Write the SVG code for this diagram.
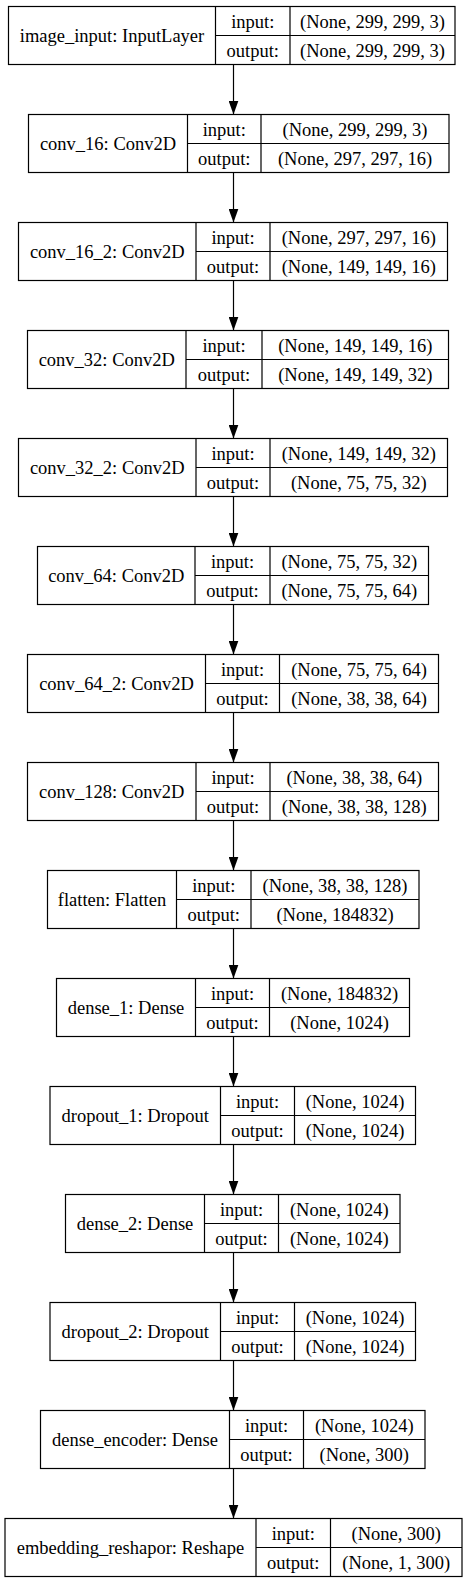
<svg xmlns="http://www.w3.org/2000/svg" width="466" height="1583" viewBox="0 0 466 1583">
<style>
.b{fill:#fff;stroke:#000;stroke-width:1.2}
.d{stroke:#000;stroke-width:1.2;fill:none}
text{font-family:"Liberation Serif","Times New Roman",serif;font-size:18.5px;fill:#000;text-anchor:middle}
.e{stroke:#000;stroke-width:1.2;fill:none;marker-end:url(#ah)}
</style>
<defs>
<marker id="ah" markerUnits="userSpaceOnUse" markerWidth="14" markerHeight="10" refX="14" refY="5" orient="auto" viewBox="0 0 14 10">
<path d="M0,0 L14,5 L0,10 z" fill="#000"/>
</marker>
</defs>
<rect width="466" height="1583" fill="#fff"/>
<g id="connectors">
<line class="e" x1="233.5" y1="64.5" x2="233.5" y2="114.5"/>
<line class="e" x1="233.5" y1="172.5" x2="233.5" y2="222.5"/>
<line class="e" x1="233.5" y1="280.5" x2="233.5" y2="330.5"/>
<line class="e" x1="233.5" y1="388.5" x2="233.5" y2="438.5"/>
<line class="e" x1="233.5" y1="496.5" x2="233.5" y2="546.5"/>
<line class="e" x1="233.5" y1="604.5" x2="233.5" y2="654.5"/>
<line class="e" x1="233.5" y1="712.5" x2="233.5" y2="762.5"/>
<line class="e" x1="233.5" y1="820.5" x2="233.5" y2="870.5"/>
<line class="e" x1="233.5" y1="928.5" x2="233.5" y2="978.5"/>
<line class="e" x1="233.5" y1="1036.5" x2="233.5" y2="1086.5"/>
<line class="e" x1="233.5" y1="1144.5" x2="233.5" y2="1194.5"/>
<line class="e" x1="233.5" y1="1252.5" x2="233.5" y2="1302.5"/>
<line class="e" x1="233.5" y1="1360.5" x2="233.5" y2="1410.5"/>
<line class="e" x1="233.5" y1="1468.5" x2="233.5" y2="1518.5"/>
</g>
<g id="image_input">
<rect class="b" x="8.5" y="6.5" width="446.5" height="58"/>
<path class="d" d="M215.5,6.5V64.5M290,6.5V64.5M215.5,35.5H455"/>
<text x="112" y="42">image_input: InputLayer</text>
<text x="252.75" y="27.5">input:</text>
<text x="252.75" y="56.5">output:</text>
<text x="372.5" y="27.5">(None, 299, 299, 3)</text>
<text x="372.5" y="56.5">(None, 299, 299, 3)</text>
</g>
<g id="conv_16">
<rect class="b" x="28.5" y="114.5" width="420.5" height="58"/>
<path class="d" d="M187.5,114.5V172.5M261,114.5V172.5M187.5,143.5H449"/>
<text x="108" y="150">conv_16: Conv2D</text>
<text x="224.25" y="135.5">input:</text>
<text x="224.25" y="164.5">output:</text>
<text x="355" y="135.5">(None, 299, 299, 3)</text>
<text x="355" y="164.5">(None, 297, 297, 16)</text>
</g>
<g id="conv_16_2">
<rect class="b" x="18.5" y="222.5" width="429" height="58"/>
<path class="d" d="M196,222.5V280.5M270,222.5V280.5M196,251.5H447.5"/>
<text x="107.25" y="258">conv_16_2: Conv2D</text>
<text x="233" y="243.5">input:</text>
<text x="233" y="272.5">output:</text>
<text x="358.75" y="243.5">(None, 297, 297, 16)</text>
<text x="358.75" y="272.5">(None, 149, 149, 16)</text>
</g>
<g id="conv_32">
<rect class="b" x="27.5" y="330.5" width="421" height="58"/>
<path class="d" d="M186,330.5V388.5M262,330.5V388.5M186,359.5H448.5"/>
<text x="106.75" y="366">conv_32: Conv2D</text>
<text x="224" y="351.5">input:</text>
<text x="224" y="380.5">output:</text>
<text x="355.25" y="351.5">(None, 149, 149, 16)</text>
<text x="355.25" y="380.5">(None, 149, 149, 32)</text>
</g>
<g id="conv_32_2">
<rect class="b" x="18.5" y="438.5" width="429" height="58"/>
<path class="d" d="M196,438.5V496.5M270,438.5V496.5M196,467.5H447.5"/>
<text x="107.25" y="474">conv_32_2: Conv2D</text>
<text x="233" y="459.5">input:</text>
<text x="233" y="488.5">output:</text>
<text x="358.75" y="459.5">(None, 149, 149, 32)</text>
<text x="358.75" y="488.5">(None, 75, 75, 32)</text>
</g>
<g id="conv_64">
<rect class="b" x="37.5" y="546.5" width="391" height="58"/>
<path class="d" d="M195,546.5V604.5M270,546.5V604.5M195,575.5H428.5"/>
<text x="116.25" y="582">conv_64: Conv2D</text>
<text x="232.5" y="567.5">input:</text>
<text x="232.5" y="596.5">output:</text>
<text x="349.25" y="567.5">(None, 75, 75, 32)</text>
<text x="349.25" y="596.5">(None, 75, 75, 64)</text>
</g>
<g id="conv_64_2">
<rect class="b" x="27.5" y="654.5" width="411" height="58"/>
<path class="d" d="M205.5,654.5V712.5M279.5,654.5V712.5M205.5,683.5H438.5"/>
<text x="116.5" y="690">conv_64_2: Conv2D</text>
<text x="242.5" y="675.5">input:</text>
<text x="242.5" y="704.5">output:</text>
<text x="359" y="675.5">(None, 75, 75, 64)</text>
<text x="359" y="704.5">(None, 38, 38, 64)</text>
</g>
<g id="conv_128">
<rect class="b" x="27.5" y="762.5" width="411" height="58"/>
<path class="d" d="M196,762.5V820.5M270,762.5V820.5M196,791.5H438.5"/>
<text x="111.75" y="798">conv_128: Conv2D</text>
<text x="233" y="783.5">input:</text>
<text x="233" y="812.5">output:</text>
<text x="354.25" y="783.5">(None, 38, 38, 64)</text>
<text x="354.25" y="812.5">(None, 38, 38, 128)</text>
</g>
<g id="flatten">
<rect class="b" x="47.5" y="870.5" width="371.5" height="58"/>
<path class="d" d="M176.5,870.5V928.5M251,870.5V928.5M176.5,899.5H419"/>
<text x="112" y="906">flatten: Flatten</text>
<text x="213.75" y="891.5">input:</text>
<text x="213.75" y="920.5">output:</text>
<text x="335" y="891.5">(None, 38, 38, 128)</text>
<text x="335" y="920.5">(None, 184832)</text>
</g>
<g id="dense_1">
<rect class="b" x="56.5" y="978.5" width="353" height="58"/>
<path class="d" d="M195.5,978.5V1036.5M269.5,978.5V1036.5M195.5,1007.5H409.5"/>
<text x="126" y="1014">dense_1: Dense</text>
<text x="232.5" y="999.5">input:</text>
<text x="232.5" y="1028.5">output:</text>
<text x="339.5" y="999.5">(None, 184832)</text>
<text x="339.5" y="1028.5">(None, 1024)</text>
</g>
<g id="dropout_1">
<rect class="b" x="50" y="1086.5" width="365.5" height="58"/>
<path class="d" d="M220.5,1086.5V1144.5M294.5,1086.5V1144.5M220.5,1115.5H415.5"/>
<text x="135.25" y="1122">dropout_1: Dropout</text>
<text x="257.5" y="1107.5">input:</text>
<text x="257.5" y="1136.5">output:</text>
<text x="355" y="1107.5">(None, 1024)</text>
<text x="355" y="1136.5">(None, 1024)</text>
</g>
<g id="dense_2">
<rect class="b" x="65.5" y="1194.5" width="334.5" height="58"/>
<path class="d" d="M204.5,1194.5V1252.5M278.5,1194.5V1252.5M204.5,1223.5H400"/>
<text x="135" y="1230">dense_2: Dense</text>
<text x="241.5" y="1215.5">input:</text>
<text x="241.5" y="1244.5">output:</text>
<text x="339.25" y="1215.5">(None, 1024)</text>
<text x="339.25" y="1244.5">(None, 1024)</text>
</g>
<g id="dropout_2">
<rect class="b" x="50" y="1302.5" width="365.5" height="58"/>
<path class="d" d="M220.5,1302.5V1360.5M294.5,1302.5V1360.5M220.5,1331.5H415.5"/>
<text x="135.25" y="1338">dropout_2: Dropout</text>
<text x="257.5" y="1323.5">input:</text>
<text x="257.5" y="1352.5">output:</text>
<text x="355" y="1323.5">(None, 1024)</text>
<text x="355" y="1352.5">(None, 1024)</text>
</g>
<g id="dense_encoder">
<rect class="b" x="40.5" y="1410.5" width="384.5" height="58"/>
<path class="d" d="M229.5,1410.5V1468.5M303.5,1410.5V1468.5M229.5,1439.5H425"/>
<text x="135" y="1446">dense_encoder: Dense</text>
<text x="266.5" y="1431.5">input:</text>
<text x="266.5" y="1460.5">output:</text>
<text x="364.25" y="1431.5">(None, 1024)</text>
<text x="364.25" y="1460.5">(None, 300)</text>
</g>
<g id="embedding_reshapor">
<rect class="b" x="5" y="1518.5" width="457" height="58"/>
<path class="d" d="M256,1518.5V1576.5M330.5,1518.5V1576.5M256,1547.5H462"/>
<text x="130.5" y="1554">embedding_reshapor: Reshape</text>
<text x="293.25" y="1539.5">input:</text>
<text x="293.25" y="1568.5">output:</text>
<text x="396.25" y="1539.5">(None, 300)</text>
<text x="396.25" y="1568.5">(None, 1, 300)</text>
</g>
</svg>
